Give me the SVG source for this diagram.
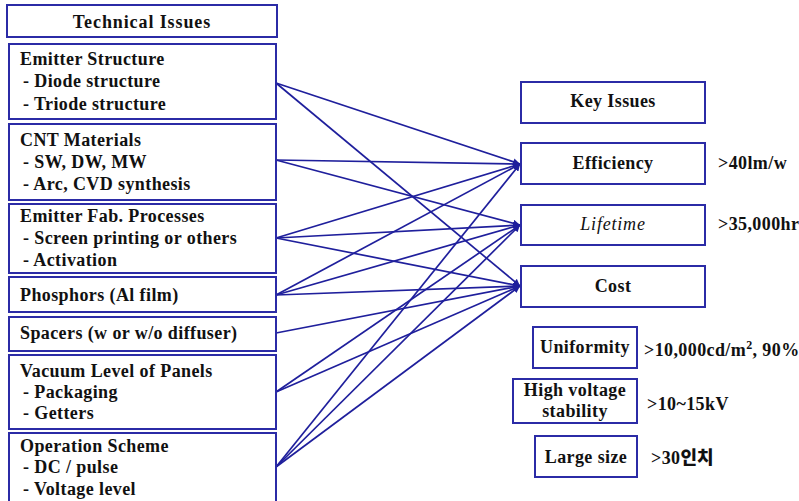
<svg xmlns="http://www.w3.org/2000/svg" width="799" height="501" viewBox="0 0 799 501">
<style>
.box{fill:#fff;stroke:#2b2ba6;stroke-width:2}
.t{font-family:"Liberation Serif","DejaVu Serif",serif;font-weight:bold;font-size:18px;letter-spacing:0.4px;fill:#111}
.c{text-anchor:middle}
.it{font-style:italic;font-weight:normal;letter-spacing:0.8px}
.cn{stroke:#1f1f9c;stroke-width:1.7;fill:none;marker-end:url(#ah)}
</style>
<defs>
<marker id="ah" viewBox="0 0 10 10" refX="10" refY="5" markerWidth="7" markerHeight="7" markerUnits="userSpaceOnUse" orient="auto">
<path d="M0,0 L10,5 L0,10 z" fill="#1f1f9c"/>
</marker>
</defs>
<g id="connectors">
<line class="cn" x1="276" y1="83" x2="520" y2="164"/>
<line class="cn" x1="276" y1="83" x2="520" y2="286"/>
<line class="cn" x1="276" y1="160" x2="520" y2="164"/>
<line class="cn" x1="276" y1="160" x2="520" y2="225"/>
<line class="cn" x1="276" y1="238" x2="520" y2="164"/>
<line class="cn" x1="276" y1="238" x2="520" y2="225"/>
<line class="cn" x1="276" y1="238" x2="520" y2="286"/>
<line class="cn" x1="276" y1="295" x2="520" y2="164"/>
<line class="cn" x1="276" y1="295" x2="520" y2="225"/>
<line class="cn" x1="276" y1="295" x2="520" y2="286"/>
<line class="cn" x1="276" y1="333" x2="520" y2="286"/>
<line class="cn" x1="276" y1="392" x2="520" y2="225"/>
<line class="cn" x1="276" y1="392" x2="520" y2="286"/>
<line class="cn" x1="276" y1="467" x2="520" y2="164"/>
<line class="cn" x1="276" y1="467" x2="520" y2="225"/>
<line class="cn" x1="276" y1="467" x2="520" y2="286"/>
</g>
<g id="technical-issues">
<rect class="box" x="7" y="5" width="270" height="32"/>
<text class="t c" x="142" y="28" style="letter-spacing:0.9px">Technical Issues</text>
</g>
<g id="emitter-structure">
<rect class="box" x="9" y="44" width="267" height="75"/>
<text class="t" x="20" y="65">Emitter Structure</text>
<text class="t" x="23" y="87">- Diode structure</text>
<text class="t" x="23" y="110">- Triode structure</text>
</g>
<g id="cnt-materials">
<rect class="box" x="9" y="124" width="267" height="76"/>
<text class="t" x="20" y="146">CNT Materials</text>
<text class="t" x="23" y="168">- SW, DW, MW</text>
<text class="t" x="23" y="190">- Arc, CVD synthesis</text>
</g>
<g id="emitter-fab">
<rect class="box" x="9" y="204" width="267" height="69"/>
<text class="t" x="20" y="222">Emitter Fab. Processes</text>
<text class="t" x="23" y="244">- Screen printing or others</text>
<text class="t" x="23" y="266">- Activation</text>
</g>
<g id="phosphors">
<rect class="box" x="9" y="277" width="267" height="35"/>
<text class="t" x="20" y="301">Phosphors (Al film)</text>
</g>
<g id="spacers">
<rect class="box" x="9" y="317" width="267" height="34"/>
<text class="t" x="20" y="339">Spacers (w or w/o diffuser)</text>
</g>
<g id="vacuum-level">
<rect class="box" x="9" y="355" width="267" height="74"/>
<text class="t" x="20" y="377">Vacuum Level of Panels</text>
<text class="t" x="23" y="398">- Packaging</text>
<text class="t" x="23" y="419">- Getters</text>
</g>
<g id="operation-scheme">
<rect class="box" x="9" y="433" width="267" height="72"/>
<text class="t" x="20" y="452">Operation Scheme</text>
<text class="t" x="23" y="473">- DC / pulse</text>
<text class="t" x="23" y="495">- Voltage level</text>
</g>
<g id="key-issues">
<rect class="box" x="521" y="82" width="184" height="41"/>
<text class="t c" x="613" y="107">Key Issues</text>
</g>
<g id="efficiency">
<rect class="box" x="521" y="143" width="184" height="41"/>
<text class="t c" x="613" y="169">Efficiency</text>
<text class="t" x="718" y="169">&gt;40lm/w</text>
</g>
<g id="lifetime">
<rect class="box" x="521" y="205" width="184" height="40"/>
<text class="t c it" x="613" y="230">Lifetime</text>
<text class="t" x="718" y="230">&gt;35,000hr</text>
</g>
<g id="cost">
<rect class="box" x="521" y="266" width="184" height="41"/>
<text class="t c" x="613" y="292">Cost</text>
</g>
<g id="uniformity">
<rect class="box" x="533" y="327" width="104" height="41"/>
<text class="t c" x="585" y="353">Uniformity</text>
<text class="t" x="644" y="356">&gt;10,000cd/m<tspan font-size="12" dy="-7">2</tspan><tspan dy="7">, 90%</tspan></text>
</g>
<g id="high-voltage">
<rect class="box" x="513" y="379" width="124" height="44"/>
<text class="t c" x="575" y="396">High voltage</text>
<text class="t c" x="575" y="417">stability</text>
<text class="t" x="647" y="410">&gt;10~15kV</text>
</g>
<g id="large-size">
<rect class="box" x="535" y="436" width="102" height="41"/>
<text class="t c" x="586" y="463">Large size</text>
<text class="t" x="651" y="464">&gt;30<tspan font-family="'Noto Sans CJK KR',sans-serif" font-weight="900" style="letter-spacing:0">인치</tspan></text>
</g>
</svg>
